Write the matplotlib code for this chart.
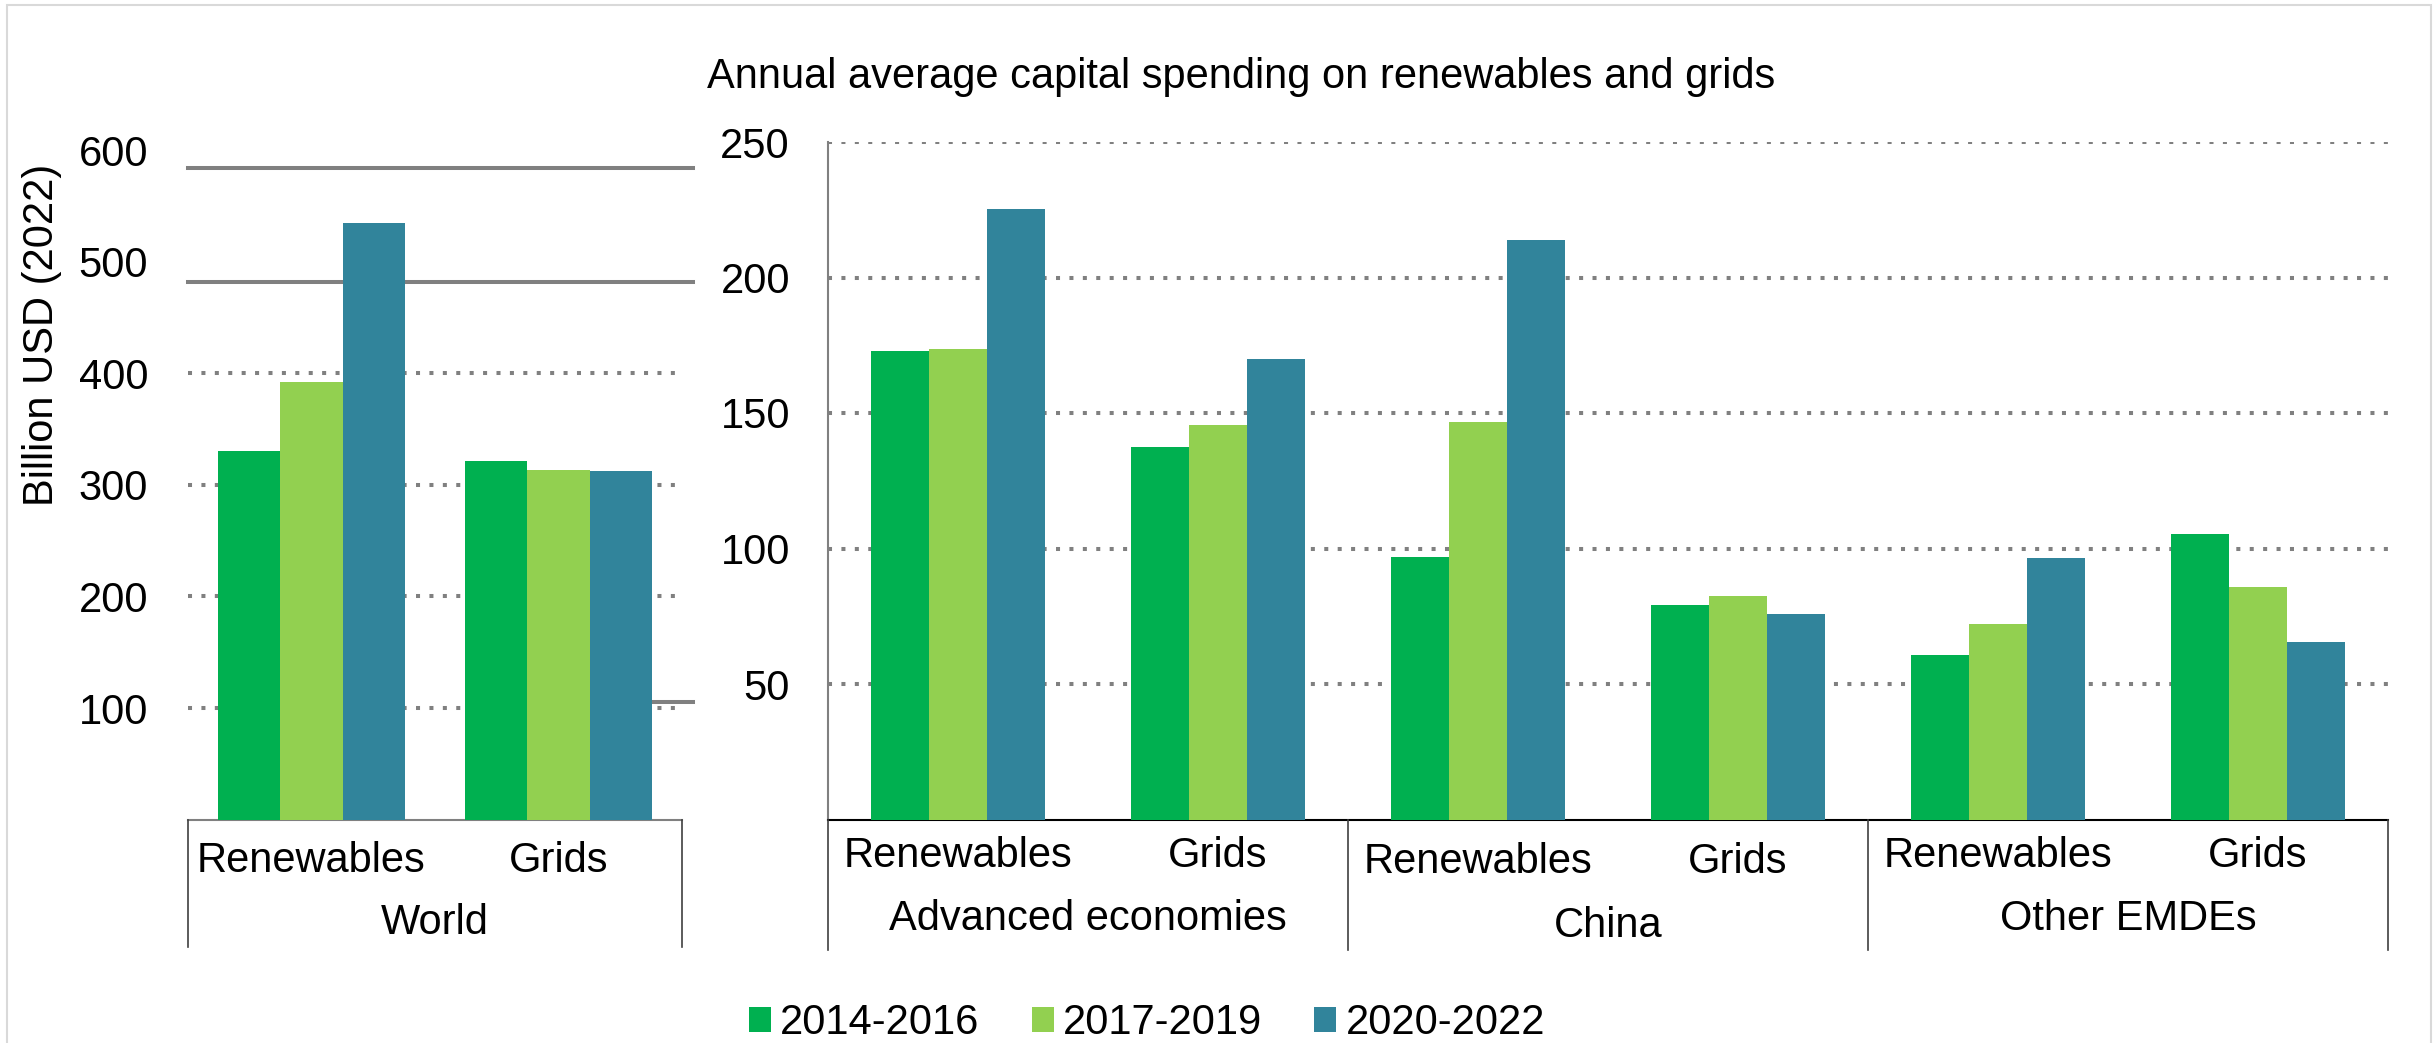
import matplotlib
matplotlib.use('Agg')
import matplotlib.pyplot as plt
import matplotlib.transforms as mtransforms
from matplotlib.patches import Rectangle, Patch
import numpy as np

plt.rcParams['font.family'] = ['Liberation Sans', 'DejaVu Sans']

# ---------------- data ----------------
periods = ['2014-2016', '2017-2019', '2020-2022']
colors = ['#00B050', '#92D050', '#31849B']

world_cats = ['Renewables', 'Grids']
world_group = 'World'
world_2014 = [330, 321]
world_2017 = [392, 313]
world_2020 = [535, 312]

region_cats = ['Renewables', 'Grids', 'Renewables', 'Grids', 'Renewables', 'Grids']
region_groups = ['Advanced economies', 'China', 'Other EMDEs']
region_2014 = [173.0, 137.3, 96.7, 79.1, 60.6, 105.3]
region_2017 = [173.7, 145.4, 146.8, 82.5, 72.0, 85.9]
region_2020 = [225.3, 170.0, 213.9, 76.0, 96.5, 65.6]

title = 'Annual average capital spending on renewables and grids'
ylabel = 'Billion USD (2022)'
left_ticks = [100, 200, 300, 400, 500, 600]
left_grid = [100, 200, 300, 400]
right_ticks = [50, 100, 150, 200, 250]

# ---------------- layout helpers ----------------
W, H = 2433, 1043
def fx(px):
    return px / W
def fy(py):
    return 1 - py / H

FS = 30
GRID_KW = dict(color='#808080', lw=2.9, ls=(0, (1, 2.33)), dash_capstyle='butt', zorder=1)

fig = plt.figure(figsize=(W / 100, H / 100), dpi=100)
fig.patch.set_facecolor('white')

axL = fig.add_axes([fx(188), fy(819.6), fx(682) - fx(188), fy(150) - fy(819.6)])
axR = fig.add_axes([fx(828), fy(819.5), fx(2388) - fx(828), fy(142) - fy(819.5)])

# ---------------- left (World) ----------------
xL = np.arange(len(world_cats))
wL = 0.252
for i, vals in enumerate([world_2014, world_2017, world_2020]):
    axL.bar(xL + (i - 1) * wL, vals, wL, color=colors[i], zorder=3, linewidth=0)
for v in left_grid:
    axL.axhline(v, **GRID_KW)
# stray solid grey rules visible in the original image
axL.axhline(584, xmin=0, xmax=1.022, color='#808080', lw=2.9, clip_on=False, zorder=2)
axL.axhline(482, xmin=0, xmax=1.022, color='#808080', lw=2.9, clip_on=False, zorder=2)
axL.axhline(105.4, xmin=0.939, xmax=1.022, color='#808080', lw=2.9, clip_on=False, zorder=2)

axL.set_ylim(0, 600)
axL.set_yticks(left_ticks)
axL.set_xticks([])
axL.tick_params(axis='y', length=0, pad=28.8, labelsize=FS)
for s in ['top', 'left', 'right']:
    axL.spines[s].set_visible(False)
axL.spines['bottom'].set_color('#808080')
axL.spines['bottom'].set_linewidth(1.5)

transL = mtransforms.blended_transform_factory(axL.transData, fig.transFigure)
for i, c in enumerate(world_cats):
    axL.text(xL[i], fy(872), c, transform=transL, ha='center', va='baseline', fontsize=FS)
axL.text(np.mean(xL), fy(934), world_group, transform=transL, ha='center', va='baseline', fontsize=FS)
for xb in [-0.5, len(world_cats) - 0.5]:
    axL.plot([xb, xb], [fy(819.6), fy(947)], transform=transL, color='#404040', lw=1.2,
             clip_on=False, zorder=5)
axL.set_xlim(-0.5, len(world_cats) - 0.5)

# ---------------- right (regions) ----------------
xR = np.arange(len(region_cats))
wR = 0.222
for i, vals in enumerate([region_2014, region_2017, region_2020]):
    axR.bar(xR + (i - 1) * wR, vals, wR, color=colors[i], zorder=3, linewidth=0)
for v in right_ticks:
    axR.axhline(v, **GRID_KW)
axR.set_ylim(0, 250)
axR.set_yticks(right_ticks)
axR.set_xticks([])
axR.tick_params(axis='y', length=0, pad=27.4, labelsize=FS)
for s in ['top', 'right']:
    axR.spines[s].set_visible(False)
axR.spines['left'].set_color('#808080')
axR.spines['left'].set_linewidth(1.5)
axR.spines['bottom'].set_color('black')
axR.spines['bottom'].set_linewidth(1.5)

transR = mtransforms.blended_transform_factory(axR.transData, fig.transFigure)
sub_base = [867, 867, 873, 873, 867, 867]
grp_base = [930, 937, 930]
for i, c in enumerate(region_cats):
    axR.text(xR[i], fy(sub_base[i]), c, transform=transR, ha='center', va='baseline', fontsize=FS)
for g, name in enumerate(region_groups):
    axR.text(2 * g + 0.5, fy(grp_base[g]), name, transform=transR, ha='center', va='baseline',
             fontsize=FS)
for xb in np.arange(-0.5, len(region_cats), 2):
    axR.plot([xb, xb], [fy(819.5), fy(950)], transform=transR, color='#404040', lw=1.2,
             clip_on=False, zorder=5)
axR.set_xlim(-0.5, len(region_cats) - 0.5)

# ---------------- titles / legend / frame ----------------
fig.text(fx(1241), fy(88), title, ha='center', va='baseline', fontsize=FS)
fig.text(fx(42), fy(335), ylabel, rotation=90, ha='center', va='center', fontsize=FS)

handles = [Patch(facecolor=c, edgecolor='none', label=p) for c, p in zip(colors, periods)]
fig.legend(handles=handles, loc='center', bbox_to_anchor=(fx(1147), fy(1023)), ncol=3,
           frameon=False, fontsize=FS, handlelength=0.53, handleheight=0.53,
           handletextpad=0.22, columnspacing=1.25, borderaxespad=0, borderpad=0)

fig.patches.append(Rectangle((fx(7), fy(1060)), fx(2431) - fx(7), fy(5) - fy(1060),
                             transform=fig.transFigure, fill=False, edgecolor='#d9d9d9', lw=1.5))

fig.savefig('out.png', dpi=100)
